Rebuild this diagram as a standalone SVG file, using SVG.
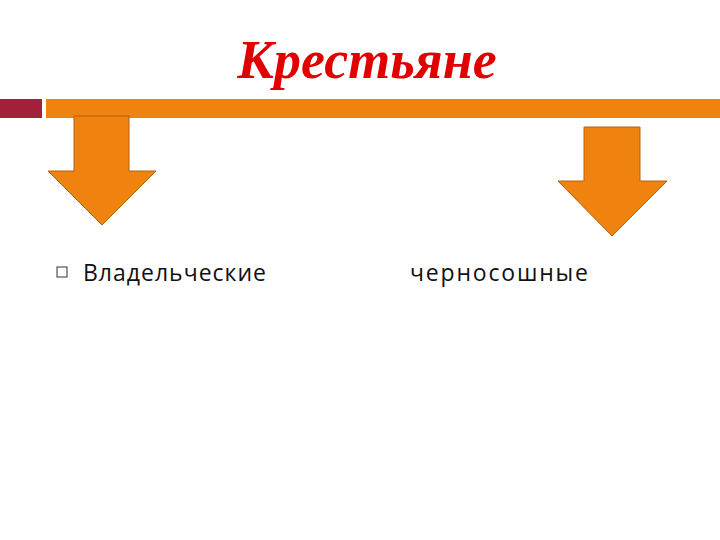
<svg xmlns="http://www.w3.org/2000/svg" width="720" height="540" viewBox="0 0 720 540">
<style>
.arrow{fill:#F0820F;stroke:#B5600A;stroke-width:1}
.lbl{font-family:"Open Sans","Liberation Sans",sans-serif;font-size:23px;fill:#111}
.title{font-family:"Liberation Serif",serif;font-weight:bold;font-style:italic;font-size:54px;fill:#E00000}
</style>
<rect width="720" height="540" fill="#fff"/>
<g id="title"><text class="title" x="367" y="78" text-anchor="middle">Крестьяне</text></g>
<g id="bars">
<rect x="0" y="99" width="42" height="19" fill="#A3213A"/>
<rect x="46" y="99" width="674" height="19" fill="#F0820F"/>
</g>
<g id="arrow-left"><polygon class="arrow" points="74,116 129,116 129,171 156,171 102,225 48,171 74,171"/></g>
<g id="arrow-right"><polygon class="arrow" points="584,127 640,127 640,181 667,181 612,236 558,181 584,181"/></g>
<g id="node-vladelcheskie">
<rect x="57" y="267" width="10" height="10" fill="none" stroke="#333" stroke-width="1"/>
<text class="lbl" x="83" y="281" textLength="183" lengthAdjust="spacing">Владельческие</text>
</g>
<g id="node-chernososhnye"><text class="lbl" x="410" y="281" textLength="178" lengthAdjust="spacing">черносошные</text></g>
</svg>
